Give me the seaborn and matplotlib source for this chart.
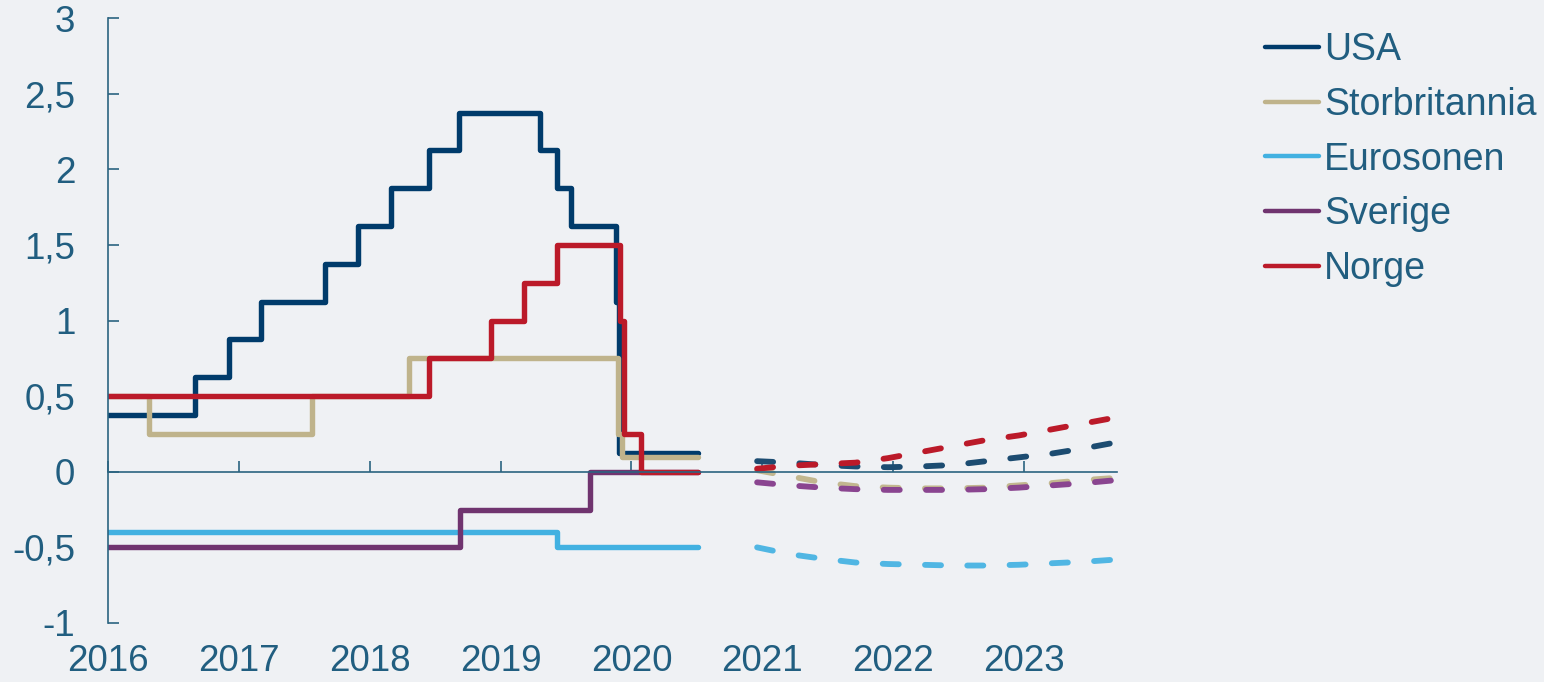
import pandas as pd
import seaborn as sns
import matplotlib.pyplot as plt

BG = '#eff1f4'
TXT = '#215e80'
SPINE = '#2b6480'

LAND = ['USA', 'Storbritannia', 'Eurosonen', 'Sverige', 'Norge']
SOLID_COLORS = ['#003b6b', '#bfb38b', '#42b1e1', '#70346f', '#bb1a29']
DASH_COLORS = ['#1c4c71', '#c2b78f', '#50b6e3', '#8a4590', '#bb1a29']

# policy rates (step series), x in decimal years as placed on the chart
usa_x = [2016.0, 2016.665, 2016.925, 2017.17, 2017.66, 2017.91, 2018.16, 2018.45,
         2018.68, 2019.30, 2019.43, 2019.54, 2019.885, 2019.907, 2020.51]
usa_y = [0.375, 0.625, 0.875, 1.125, 1.375, 1.625, 1.875, 2.125,
         2.375, 2.125, 1.875, 1.625, 1.125, 0.125, 0.125]

uk_x = [2016.0, 2016.31, 2017.56, 2018.30, 2019.90, 2019.93, 2020.51]
uk_y = [0.5, 0.25, 0.5, 0.75, 0.25, 0.1, 0.1]

euro_x = [2016.0, 2019.43, 2020.51]
euro_y = [-0.4, -0.5, -0.5]

sve_x = [2016.0, 2018.69, 2019.685, 2020.51]
sve_y = [-0.5, -0.25, 0.0, 0.0]

nor_x = [2016.0, 2018.45, 2018.93, 2019.18, 2019.43, 2019.91, 2019.94, 2020.07, 2020.51]
nor_y = [0.5, 0.75, 1.0, 1.25, 1.5, 1.0, 0.25, 0.0, 0.0]

# market-implied forward rates (quarterly)
fc_x = [2020.96, 2021.21, 2021.46, 2021.71, 2021.96, 2022.21,
        2022.46, 2022.71, 2022.96, 2023.21, 2023.46, 2023.71]
usa_fc = [0.07, 0.06, 0.045, 0.035, 0.03, 0.035, 0.045, 0.07, 0.095, 0.12, 0.155, 0.195]
uk_fc = [0.01, -0.03, -0.07, -0.095, -0.105, -0.11, -0.11, -0.105, -0.09, -0.075, -0.055, -0.04]
euro_fc = [-0.50, -0.545, -0.575, -0.60, -0.61, -0.615, -0.62, -0.62, -0.615, -0.605, -0.595, -0.58]
sve_fc = [-0.07, -0.09, -0.105, -0.115, -0.12, -0.12, -0.12, -0.115, -0.105, -0.09, -0.075, -0.055]
nor_fc = [0.02, 0.04, 0.05, 0.06, 0.09, 0.13, 0.17, 0.21, 0.24, 0.28, 0.32, 0.36]

YEARS = [2016, 2017, 2018, 2019, 2020, 2021, 2022, 2023]
Y_TICKS = [-1, -0.5, 0, 0.5, 1, 1.5, 2, 2.5, 3]
Y_LABELS = ['-1', '-0,5', '0', '0,5', '1', '1,5', '2', '2,5', '3']


def long_frame(xs, ys):
    parts = []
    for land, x, y in zip(LAND, xs, ys):
        parts.append(pd.DataFrame({'x': x, 'rente': y, 'land': land}))
    return pd.concat(parts, ignore_index=True)


def main():
    sns.set_theme(style='white')
    plt.rcParams['font.family'] = ['Liberation Sans', 'DejaVu Sans']

    hist = long_frame([usa_x, uk_x, euro_x, sve_x, nor_x],
                      [usa_y, uk_y, euro_y, sve_y, nor_y])
    fc = long_frame([fc_x] * 5, [usa_fc, uk_fc, euro_fc, sve_fc, nor_fc])

    fig = plt.figure(figsize=(15.44, 6.82), dpi=100, facecolor=BG)
    ax = fig.add_axes([108 / 1544, 59 / 682, (1117 - 108) / 1544, (623 - 18) / 682])
    ax.set_facecolor(BG)

    sns.lineplot(data=hist, x='x', y='rente', hue='land', hue_order=LAND,
                 palette=dict(zip(LAND, SOLID_COLORS)), estimator=None,
                 drawstyle='steps-post', linewidth=3.9,
                 solid_capstyle='round', solid_joinstyle='round', ax=ax)
    sns.lineplot(data=fc, x='x', y='rente', hue='land', hue_order=LAND,
                 palette=dict(zip(LAND, DASH_COLORS)), estimator=None,
                 linewidth=4.2, linestyle=(0, (2.75, 4.5)),
                 dash_capstyle='round', legend=False, ax=ax)

    ax.set_xlim(2016, 2023.71)
    ax.set_ylim(-1, 3)
    ax.set_xlabel('')
    ax.set_ylabel('')

    for side in ['top', 'right']:
        ax.spines[side].set_visible(False)
    ax.spines['bottom'].set_position(('data', 0))
    for side in ['left', 'bottom']:
        ax.spines[side].set_color(SPINE)
        ax.spines[side].set_linewidth(1.2)

    ax.set_yticks(Y_TICKS)
    ax.set_yticklabels(Y_LABELS)
    ax.tick_params(axis='y', direction='in', length=8, width=1.2, color=SPINE,
                   labelsize=26.5, labelcolor=TXT, pad=23.5, left=True)
    ax.set_xticks(YEARS)
    ax.tick_params(axis='x', direction='in', length=8, width=1.2, color=SPINE,
                   labelbottom=False, bottom=True)

    sec = ax.secondary_xaxis('bottom')
    sec.set_xticks(YEARS)
    sec.set_xticklabels([str(y) for y in YEARS])
    sec.tick_params(length=0, labelsize=26.5, labelcolor=TXT, pad=15)
    sec.spines['bottom'].set_visible(False)

    handles, labels = ax.get_legend_handles_labels()
    ax.get_legend().remove()
    leg = fig.legend(handles, labels, loc='upper left',
                     bbox_to_anchor=(1265 / 1544, 1 - 32 / 682),
                     frameon=False, fontsize=27, handlelength=1.45,
                     handletextpad=0.12, labelspacing=0.5,
                     borderpad=0, borderaxespad=0)
    for text in leg.get_texts():
        text.set_color(TXT)
    for line in leg.get_lines():
        line.set_linewidth(3.2)

    fig.savefig('out.png', dpi=100, facecolor=BG)


if __name__ == '__main__':
    main()
